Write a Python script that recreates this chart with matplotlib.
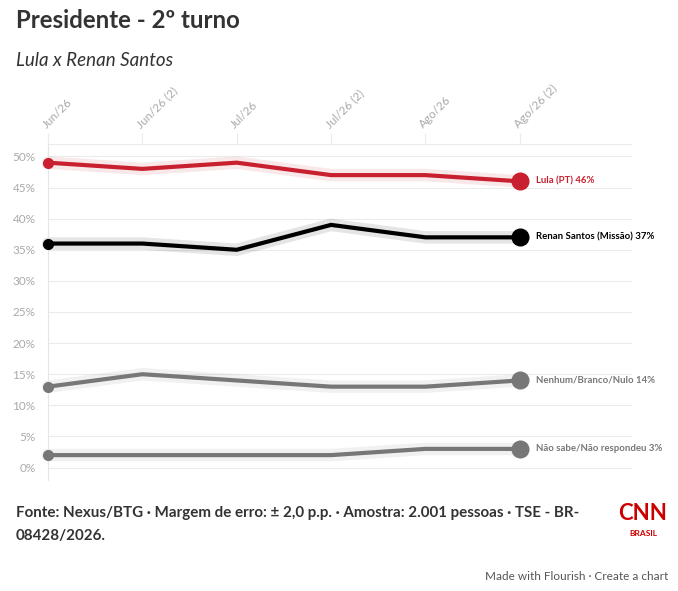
import numpy as np
import matplotlib.pyplot as plt

plt.rcParams['font.family'] = ['Lato', 'DejaVu Sans']

# dados
rodadas = ["Jun/26", "Jun/26 (2)", "Jul/26", "Jul/26 (2)", "Ago/26", "Ago/26 (2)"]
lula = [49, 48, 49, 47, 47, 46]
renan = [36, 36, 35, 39, 37, 37]
nenhum = [13, 15, 14, 13, 13, 14]
nao_sabe = [2, 2, 2, 2, 3, 3]

series = [
    ("Lula (PT)", lula, "#c8202f"),
    ("Renan Santos (Missão)", renan, "#000000"),
    ("Nenhum/Branco/Nulo", nenhum, "#777777"),
    ("Não sabe/Não respondeu", nao_sabe, "#777777"),
]

fig = plt.figure(figsize=(6.78, 5.91), dpi=100)
ax = fig.add_axes([48/678, 1-480/591, (632-48)/678, (480-144)/591])

x = np.arange(len(rodadas))
for nome, vals, cor in series:
    ax.plot(x, vals, color=cor, lw=9, alpha=0.10, solid_capstyle='round', zorder=2, clip_on=False)
    ax.plot(x, vals, color=cor, lw=3, solid_joinstyle='miter', zorder=3, clip_on=False)
    ax.plot(x[0], vals[0], 'o', color=cor, ms=7, zorder=4, clip_on=False)
    ax.plot(x[-1], vals[-1], 'o', color=cor, ms=12, zorder=4, clip_on=False)
    ax.annotate(f"{nome} {vals[-1]}%", (x[-1], vals[-1]), xytext=(12, 0),
                textcoords='offset points', va='center', ha='left',
                fontsize=6.9, fontweight='bold', color=cor, annotation_clip=False)

ax.set_xlim(0, 6.19)
ax.set_ylim(-2, 52)
yt = np.arange(0, 51, 5)
ax.set_yticks(yt)
ax.set_yticklabels([f"{v}%" for v in yt], fontsize=8.5, color="#aaaaaa")
ax.tick_params(axis='y', length=0, pad=9)
for v in yt:
    ax.axhline(v, color="#ececec", lw=0.8, zorder=1)
ax.axhline(52, color="#ececec", lw=0.8, zorder=1)

ax.set_xticks(x)
ax.xaxis.tick_top()
ax.set_xticklabels(rodadas, rotation=45, ha='left', va='bottom', rotation_mode='anchor',
                   fontsize=8.5, color="#aaaaaa")
ax.tick_params(axis='x', length=8, color="#ececec", width=0.8, pad=2)

for s in ['top', 'right', 'bottom']:
    ax.spines[s].set_visible(False)
ax.spines['left'].set_color("#e6e6e6")
ax.spines['left'].set_linewidth(0.8)

# textos
fig.text(16/678, 1-20/591, "Presidente - 2º turno", fontsize=17.3, fontweight='bold',
         color="#333333", va='center')
fig.text(16/678, 1-61/591, "Lula x Renan Santos", fontsize=13.5, style='italic',
         color="#333333", va='center')
fig.text(16/678, 1-513/591, "Fonte: Nexus/BTG \u2219 Margem de erro: ± 2,0 p.p. \u2219 Amostra: 2.001 pessoas \u2219 TSE - BR-",
         fontsize=10.9, fontweight='bold', color="#333333", va='center')
fig.text(16/678, 1-536/591, "08428/2026.", fontsize=10.9, fontweight='bold',
         color="#333333", va='center')
fig.text(643/678, 1-514/591, "CNN", fontsize=16, fontweight='bold', color="#cc0000",
         va='center', ha='center')
fig.text(643/678, 1-533/591, "BRASIL", fontsize=6, fontweight='bold', color="#cc0000",
         va='center', ha='center')
fig.text(668/678, 1-577/591, "Made with Flourish \u2219 Create a chart", fontsize=8.5,
         color="#555555", va='center', ha='right')

fig.savefig("out.png", dpi=100, facecolor='white')
